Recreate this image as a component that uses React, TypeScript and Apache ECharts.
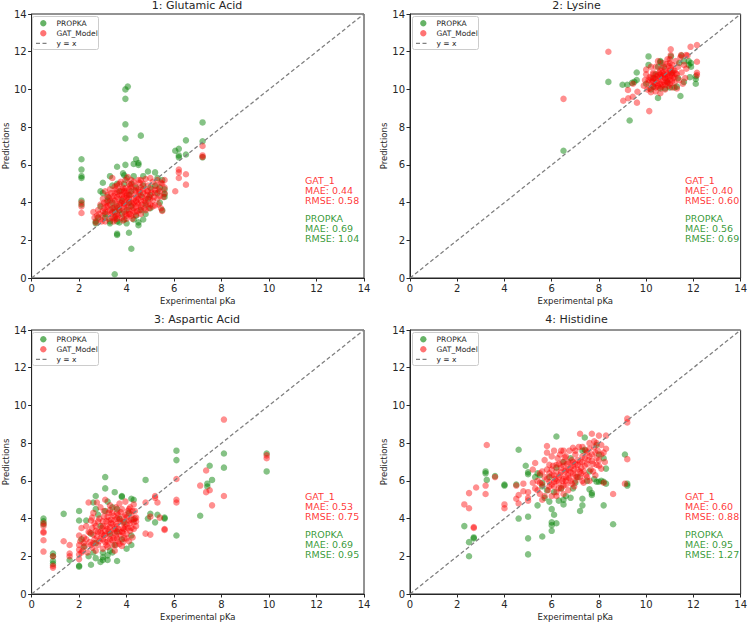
import React, { useEffect, useRef } from "react";
import * as echarts from "echarts";

const titles = ["1: Glutamic Acid", "2: Lysine", "3: Aspartic Acid", "4: Histidine"];
const gatMae = ["0.44", "0.40", "0.53", "0.60"];
const gatRmse = ["0.58", "0.60", "0.75", "0.88"];
const propkaMae = ["0.69", "0.56", "0.69", "0.95"];
const propkaRmse = ["1.04", "0.69", "0.95", "1.27"];
const tickValues = [0, 2, 4, 6, 8, 10, 12, 14];
const diagonal = [[0, 0], [14, 14]];

const glutamicPropka = [
  [2.1, 6.3], [2.1, 5.75], [2.1, 5.4], [2.1, 5.3], [2.1, 4.1], [2.1, 3.9],
  [3.95, 10.0], [4.05, 10.15], [3.95, 9.5], [3.95, 8.15], [3.95, 7.4], [4.6, 7.55],
  [3.5, 0.2], [4.2, 1.55], [3.6, 2.35], [3.6, 2.28], [4.1, 2.4],
  [7.2, 8.25], [7.2, 7.25], [7.2, 6.4], [6.5, 7.3], [6.5, 6.55], [6.2, 6.85], [6.05, 6.75], [6.2, 6.5], [6.2, 6.4],
  [3.0, 5.05], [3.3, 5.4], [3.6, 5.9], [3.95, 6.0], [3.85, 5.55], [3.9, 5.45], [4.4, 6.3], [4.5, 6.1], [4.5, 6.0],
  [4.3, 6.05], [4.9, 5.65], [5.2, 5.6], [5.5, 5.2], [5.6, 4.3], [5.6, 4.45], [5.6, 4.7],
  [4.5, 2.8], [4.5, 2.95], [4.0, 2.9], [3.7, 2.95], [3.3, 2.9], [3.3, 3.0], [2.7, 2.9], [2.7, 3.0], [2.8, 3.2],
  [3.6, 5.0], [3.4, 4.9], [4.0, 5.3], [4.2, 5.0], [4.7, 4.9], [5.0, 4.8], [5.3, 4.5], [5.4, 4.0], [5.0, 3.7],
  [4.8, 3.4], [4.3, 3.1], [3.9, 3.1], [3.5, 3.2], [3.1, 3.4], [2.9, 3.8], [3.0, 4.5], [3.2, 4.3], [4.6, 3.6],
  [4.9, 4.2], [3.7, 3.6], [4.1, 4.4], [4.4, 4.8], [3.8, 4.1], [3.4, 3.7], [4.2, 3.8], [5.3, 5.3], [3.6, 3.0],
  [4.7, 5.4], [2.9, 4.6], [5.5, 3.6], [3.1, 3.2], [3.2, 4.1], [3.4, 4.0], [3.6, 3.8], [3.8, 3.4], [4.0, 3.6],
  [4.2, 4.6], [4.4, 3.3], [4.6, 4.4], [4.8, 3.9], [5.0, 4.4], [5.2, 4.9], [3.7, 4.6], [3.9, 5.0], [4.1, 4.0],
  [3.5, 3.5], [4.3, 5.4], [4.7, 3.1], [5.4, 4.8],
];

const glutamicGat = [
  [2.1, 4.0], [2.1, 3.8], [2.1, 3.45],
  [2.6, 3.5], [2.65, 3.2], [2.7, 2.95], [2.75, 3.3], [2.8, 3.6], [2.9, 3.1], [2.9, 3.9], [3.0, 3.3], [3.0, 4.2],
  [3.05, 3.7], [3.1, 4.6], [3.1, 3.0], [3.15, 4.0], [3.2, 3.5], [3.2, 4.4], [3.25, 3.15], [3.3, 3.9], [3.3, 4.7],
  [3.35, 3.4], [3.4, 5.3], [3.4, 4.2], [3.45, 3.7], [3.5, 3.1], [3.5, 4.5], [3.55, 3.95], [3.6, 4.9], [3.6, 3.4],
  [3.65, 4.2], [3.7, 5.0], [3.7, 3.6], [3.75, 4.6], [3.8, 3.2], [3.8, 4.0], [3.85, 4.8], [3.9, 3.5], [3.9, 4.3],
  [3.95, 5.2], [4.0, 3.3], [4.0, 3.9], [4.0, 4.6], [4.05, 4.1], [4.1, 5.0], [4.1, 3.6], [4.15, 4.4], [4.2, 3.3],
  [4.2, 4.8], [4.25, 3.9], [4.3, 4.2], [4.3, 5.1], [4.35, 3.5], [4.4, 4.6], [4.4, 3.8], [4.45, 4.0], [4.5, 5.2],
  [4.5, 4.4], [4.55, 3.6], [4.6, 4.8], [4.6, 4.1], [4.65, 3.9], [4.7, 4.5], [4.7, 5.0], [4.75, 3.7], [4.8, 4.2],
  [4.8, 5.25], [4.85, 4.6], [4.9, 3.9], [4.9, 4.9], [4.95, 4.3], [5.0, 5.3], [5.0, 3.9], [5.05, 4.7], [5.1, 4.1],
  [5.1, 5.1], [5.2, 4.5], [5.2, 3.85], [5.25, 4.9], [5.3, 4.2], [5.3, 5.2], [5.35, 3.9], [5.4, 4.6], [5.45, 3.7],
  [5.5, 5.0], [5.5, 3.55], [5.55, 4.3], [5.6, 5.2], [5.6, 4.8], [5.6, 4.5],
  [3.2, 3.8], [3.4, 3.2], [3.5, 4.1], [3.6, 4.55], [3.7, 3.9], [3.8, 4.4], [3.9, 3.8], [4.0, 4.25], [4.1, 4.7],
  [4.2, 4.0], [4.3, 3.7], [4.4, 4.3], [4.5, 4.7], [4.6, 3.4], [3.65, 3.3], [3.85, 3.05], [4.25, 3.15], [3.55, 4.7],
  [3.35, 4.5], [3.75, 5.1], [4.05, 5.35], [4.15, 3.4], [3.95, 4.5], [4.35, 4.9], [4.55, 5.05], [2.85, 3.4],
  [3.1, 3.5], [3.45, 3.0],
  [3.3, 4.1], [3.4, 3.5], [3.45, 4.35], [3.5, 3.75], [3.55, 3.3], [3.6, 4.3], [3.65, 3.7], [3.7, 4.4], [3.75, 4.0],
  [3.8, 3.7], [3.8, 4.7], [3.85, 4.2], [3.9, 3.95], [3.95, 3.4], [3.95, 4.75], [4.0, 4.4], [4.05, 3.75], [4.1, 4.2],
  [4.1, 3.4], [4.15, 4.9], [4.2, 4.45], [4.25, 3.6], [4.3, 4.0], [4.35, 4.65], [4.4, 4.1], [4.45, 3.55], [4.5, 4.2],
  [4.5, 3.9], [4.55, 4.55], [4.6, 3.75], [4.65, 4.3], [4.7, 4.7], [4.75, 4.1], [4.8, 3.6], [4.85, 4.4], [4.9, 4.6],
  [4.95, 3.7], [5.0, 4.2], [5.05, 4.5], [5.1, 3.8], [5.15, 4.3], [3.3, 3.6], [3.25, 4.25], [3.15, 3.8], [3.05, 4.0],
  [3.0, 3.55], [2.95, 3.0], [3.6, 3.15], [4.0, 3.15], [4.4, 3.35], [3.9, 4.6], [4.2, 5.2], [4.6, 5.2], [3.5, 4.85],
  [4.8, 4.0], [5.2, 4.65], [5.4, 4.35], [5.45, 5.05], [5.35, 4.7],
  [6.05, 4.6], [6.2, 5.75], [6.2, 5.6], [6.2, 5.3], [6.5, 5.5], [6.5, 4.95], [7.2, 7.0], [7.2, 6.5], [7.2, 6.42],
];

const lysinePropka = [
  [10.2, 10.0], [10.0, 10.3], [10.3, 10.6], [10.5, 11.2], [10.6, 11.45], [10.8, 10.05], [11.0, 10.1], [11.2, 10.1],
  [11.3, 10.15], [11.4, 11.4], [11.6, 11.5], [11.8, 11.3], [11.9, 11.4], [11.8, 11.5], [11.9, 11.2], [12.1, 10.3],
  [12.1, 10.55], [12.1, 10.7], [11.85, 10.65], [11.45, 9.65], [10.5, 9.55], [10.1, 11.75], [10.1, 11.3], [9.6, 10.9],
  [9.6, 10.5], [9.5, 10.4], [9.4, 10.35], [9.2, 10.25], [9.0, 10.25], [8.4, 10.4], [9.3, 8.35], [6.5, 6.75],
  [11.05, 11.75], [11.5, 11.8], [10.6, 11.5], [10.9, 10.4], [11.1, 10.9], [10.4, 10.8], [10.75, 11.2], [11.35, 10.6],
  [10.3, 10.15], [11.6, 10.4], [10.6, 10.05],
];

const lysineGat = [
  [6.5, 9.5], [8.4, 12.0], [9.03, 9.4], [9.24, 9.53], [9.43, 9.61], [9.61, 9.3], [9.23, 9.97], [9.44, 10.3],
  [9.63, 9.88], [10.13, 8.85], [11.88, 12.26], [12.15, 12.35], [11.48, 11.82], [11.69, 11.82], [11.04, 12.13],
  [11.04, 11.82], [12.15, 11.47], [12.15, 10.88], [12.15, 10.76],
  [9.9, 10.2], [9.95, 10.5], [10.0, 10.8], [10.0, 11.05], [10.05, 10.0], [10.1, 10.35], [10.15, 10.65], [10.2, 9.85],
  [10.25, 10.4], [10.3, 10.9], [10.3, 10.15], [10.35, 10.6], [10.4, 9.9], [10.4, 11.2], [10.45, 10.35], [10.5, 10.75],
  [10.55, 10.1], [10.6, 11.0], [10.6, 9.8], [10.65, 10.5], [10.7, 11.4], [10.7, 10.25], [10.75, 10.8], [10.8, 10.0],
  [10.8, 11.1], [10.85, 10.45], [10.9, 10.7], [10.9, 11.6], [10.95, 10.2], [11.0, 11.0], [11.0, 10.5],
  [11.05, 10.85], [11.1, 11.3], [11.1, 10.1], [11.15, 10.6], [11.2, 11.0], [11.2, 10.35], [11.25, 11.5], [11.3, 10.8],
  [11.3, 10.05], [11.35, 11.2], [11.4, 10.5], [11.45, 11.7], [11.5, 10.9], [11.55, 10.3], [11.6, 11.3], [11.65, 10.6],
  [11.7, 11.1], [11.75, 11.8], [10.5, 11.5], [10.2, 11.2], [10.6, 10.3], [10.8, 10.6], [10.4, 10.55], [10.9, 10.35],
  [10.55, 10.9], [10.3, 10.45], [10.7, 10.7], [11.1, 10.75], [10.95, 11.25], [10.15, 10.05], [10.65, 11.15],
  [10.2, 10.6], [10.3, 10.8], [10.35, 10.3], [10.45, 10.7], [10.5, 10.2], [10.5, 10.45], [10.6, 10.65], [10.65, 10.15],
  [10.7, 10.9], [10.75, 10.4], [10.8, 10.25], [10.85, 10.95], [10.9, 10.55], [10.95, 10.85], [11.0, 10.3], [11.0, 10.7],
  [11.05, 11.15], [11.1, 10.45], [11.15, 11.0], [11.2, 10.65], [11.25, 10.85], [10.4, 10.1], [10.1, 10.5], [10.6, 10.8],
  [10.8, 10.75], [11.0, 11.4], [11.0, 11.6], [10.85, 11.35],
];

const asparticPropka = [
  [0.5, 4.0], [0.5, 3.85], [0.5, 3.7], [0.9, 2.15], [0.9, 2.0], [0.9, 1.75], [0.9, 1.6], [1.35, 4.25], [1.6, 1.8],
  [2.0, 4.4], [2.0, 3.9], [2.0, 1.45], [2.0, 1.5], [2.5, 1.55], [2.7, 1.9], [2.7, 5.2], [2.6, 4.85], [2.7, 4.5],
  [3.1, 6.2], [3.1, 5.6], [3.5, 5.4], [3.8, 5.2], [3.8, 5.15], [3.6, 1.75], [3.2, 1.8], [2.9, 1.7], [3.0, 1.95],
  [4.2, 2.6], [4.3, 5.0], [4.2, 5.05], [4.8, 6.05], [4.9, 4.0], [5.0, 4.25], [5.2, 3.8], [5.3, 4.2], [5.6, 4.0],
  [5.6, 4.05], [6.1, 7.6], [6.1, 7.1], [6.1, 3.1], [7.1, 4.15], [7.4, 5.85], [7.4, 5.7], [7.5, 6.8], [7.6, 6.05],
  [8.1, 7.45], [8.1, 6.7], [9.9, 7.45], [9.9, 6.5], [3.4, 2.2], [3.3, 2.3],
  [2.1, 2.9], [2.3, 3.9], [2.5, 3.2], [2.7, 2.7], [2.9, 3.6], [3.0, 2.2], [3.1, 4.4], [3.3, 3.2], [3.4, 4.6],
  [3.5, 2.6], [3.6, 3.3], [3.7, 4.0], [3.8, 2.9], [3.9, 3.8], [4.0, 2.4], [4.1, 4.3], [4.2, 3.1], [4.3, 3.95],
  [2.6, 2.2], [2.2, 2.5], [3.2, 4.9], [3.6, 4.5], [2.8, 4.2], [3.0, 1.8], [3.2, 2.05], [2.4, 2.0],
];

const asparticGat = [
  [0.5, 3.75], [0.5, 3.6], [0.5, 3.3], [0.5, 3.25], [0.5, 2.85], [0.5, 2.25], [0.9, 2.0], [0.9, 1.5], [0.9, 1.4],
  [1.35, 2.8], [1.6, 2.6], [1.6, 2.15], [1.6, 2.0],
  [2.0, 1.85], [2.0, 2.1], [2.0, 2.35], [2.0, 2.6], [2.0, 3.1], [2.05, 2.8], [2.1, 3.5], [2.15, 2.3], [2.2, 3.0],
  [2.25, 2.55], [2.3, 3.6], [2.35, 2.2], [2.4, 3.3], [2.4, 4.85], [2.45, 2.75], [2.5, 3.9], [2.55, 2.45], [2.6, 3.15],
  [2.6, 4.3], [2.65, 2.9], [2.7, 3.6], [2.7, 2.3], [2.75, 4.85], [2.8, 3.3], [2.8, 2.6], [2.85, 4.0], [2.9, 2.95],
  [2.9, 4.6], [2.95, 3.5], [3.0, 2.4], [3.0, 3.85], [3.05, 3.1], [3.05, 4.4], [3.1, 2.75], [3.1, 5.0], [3.15, 3.6],
  [3.2, 2.5], [3.2, 4.1], [3.25, 3.3], [3.3, 2.9], [3.3, 4.7], [3.35, 3.75], [3.4, 2.6], [3.4, 4.3], [3.45, 3.4],
  [3.5, 2.3], [3.5, 3.95], [3.55, 3.1], [3.55, 4.6], [3.6, 3.6], [3.65, 2.8], [3.65, 4.2], [3.7, 3.3], [3.7, 4.8],
  [3.75, 3.85], [3.8, 2.55], [3.8, 4.5], [3.85, 3.5], [3.9, 4.1], [3.9, 2.95], [3.95, 4.9], [4.0, 3.7], [4.0, 3.2],
  [4.05, 4.4], [4.1, 3.9], [4.1, 2.8], [4.15, 4.6], [4.2, 3.5], [4.2, 4.2], [4.25, 3.0], [4.3, 4.75], [4.3, 3.8],
  [4.35, 4.4], [4.4, 3.6], [4.4, 4.05], [3.1, 3.35], [3.3, 3.55], [3.45, 2.95], [3.6, 4.0], [3.75, 3.1], [2.95, 3.2],
  [3.25, 3.9], [3.5, 3.45], [3.85, 3.25], [2.75, 3.05], [3.15, 2.6], [3.95, 3.55], [4.15, 3.35], [2.55, 3.5],
  [2.6, 2.7], [2.7, 3.35], [2.8, 3.85], [2.85, 2.8], [2.9, 3.3], [3.0, 3.6], [3.0, 2.9], [3.05, 4.1], [3.1, 3.15],
  [3.15, 3.85], [3.2, 2.8], [3.2, 3.45], [3.25, 4.3], [3.3, 3.1], [3.35, 3.95], [3.4, 3.7], [3.4, 2.85], [3.45, 4.15],
  [3.5, 3.25], [3.55, 3.7], [3.6, 2.95], [3.6, 4.3], [3.65, 3.45], [3.7, 3.95], [3.7, 2.65], [3.75, 4.35], [3.8, 3.3],
  [3.85, 3.8], [3.9, 3.45], [3.95, 4.2], [4.0, 2.95], [4.0, 4.05], [4.05, 3.5], [4.1, 4.5], [4.15, 3.75], [4.2, 3.95],
  [4.25, 4.4], [4.3, 3.45], [4.35, 4.0], [4.4, 3.85], [2.3, 2.9], [2.45, 3.25], [2.5, 2.6], [2.55, 4.05], [2.65, 3.75],
  [2.2, 2.7], [2.1, 2.2], [3.3, 4.45], [3.55, 2.6], [3.85, 2.75],
  [4.8, 4.85], [4.8, 3.2], [5.0, 3.15], [5.0, 4.1], [5.2, 5.2], [5.2, 5.1], [5.3, 4.85], [5.4, 4.05], [5.6, 3.45],
  [5.6, 3.4], [6.1, 6.1], [6.1, 5.0], [6.1, 4.85], [7.1, 5.75], [7.35, 6.55], [7.35, 5.4], [7.5, 5.5], [7.6, 4.7],
  [8.1, 9.25], [8.1, 5.2], [9.9, 7.35], [9.9, 7.2],
];

const histidinePropka = [
  [2.3, 3.6], [2.5, 2.75], [2.5, 2.0], [2.7, 2.95], [2.7, 3.0], [3.2, 6.5], [3.2, 6.4], [3.25, 6.05], [3.6, 6.25],
  [4.0, 5.8], [4.0, 5.75], [4.6, 4.0], [4.6, 7.65], [4.5, 5.8], [4.9, 6.8], [5.0, 6.45], [5.0, 6.35], [5.0, 4.1],
  [5.0, 2.95], [5.0, 2.1], [5.4, 4.7], [5.6, 3.05], [6.0, 3.35], [6.0, 3.65], [6.0, 3.8], [6.1, 4.2], [6.2, 3.75],
  [6.0, 4.5], [6.2, 8.35], [6.5, 4.75], [6.5, 5.0], [7.2, 4.4], [7.3, 4.7], [7.3, 5.05], [7.6, 5.55], [7.7, 5.35],
  [7.7, 5.25], [8.2, 4.7], [8.6, 3.7], [7.9, 5.95], [8.0, 5.95], [8.2, 5.95], [8.3, 5.85], [8.1, 6.0], [9.1, 7.4],
  [9.2, 5.75], [9.2, 5.85], [8.3, 6.65], [7.4, 8.3], [7.4, 7.65], [8.0, 7.4], [5.5, 6.3], [5.3, 6.2], [5.6, 5.7],
  [5.8, 5.5], [6.6, 5.2], [6.9, 5.6],
  [5.4, 6.4], [5.7, 5.1], [5.9, 4.9], [6.1, 5.4], [6.3, 4.95], [6.4, 5.6], [6.8, 5.1], [7.0, 5.9], [7.1, 6.2],
  [7.5, 6.0], [7.8, 6.1], [7.6, 6.5], [6.5, 7.0], [6.8, 7.2], [7.3, 7.6], [8.2, 7.2], [7.9, 7.9], [5.9, 6.2],
  [6.2, 6.7], [5.6, 5.9],
];

const histidineGat = [
  [2.3, 4.75], [2.5, 5.35], [2.5, 4.55], [2.7, 3.55], [2.7, 3.5], [2.8, 5.65], [3.2, 5.75], [3.2, 5.3], [3.25, 7.9],
  [3.6, 6.2], [4.0, 4.75], [4.0, 4.55], [4.5, 5.75], [4.5, 5.05], [4.6, 4.8], [4.6, 5.25], [4.8, 5.45], [4.8, 5.85],
  [5.0, 5.4], [5.0, 5.1], [5.0, 4.95], [5.3, 6.95], [5.2, 6.6], [5.8, 7.85], [5.8, 7.5], [6.1, 7.6], [6.4, 7.6],
  [6.5, 7.6], [7.2, 8.5], [7.7, 8.5], [8.0, 8.4], [8.3, 8.4], [9.2, 9.3], [9.2, 9.1], [9.2, 7.15], [9.1, 5.85],
  [8.6, 5.3], [8.2, 5.9], [8.1, 6.65], [7.9, 6.85], [6.9, 7.75], [7.5, 7.5],
  [5.3, 5.6], [5.4, 6.0], [5.5, 5.3], [5.5, 6.4], [5.6, 5.8], [5.7, 5.2], [5.7, 6.2], [5.8, 6.6], [5.85, 5.5],
  [5.9, 5.95], [6.0, 6.3], [6.0, 5.2], [6.05, 6.8], [6.1, 5.7], [6.15, 6.1], [6.2, 6.5], [6.2, 5.4], [6.25, 7.2],
  [6.3, 5.9], [6.35, 6.3], [6.4, 6.7], [6.4, 5.6], [6.45, 7.0], [6.5, 6.1], [6.55, 6.5], [6.6, 5.8], [6.6, 7.3],
  [6.65, 6.9], [6.7, 6.3], [6.75, 7.6], [6.8, 6.0], [6.8, 6.7], [6.85, 7.1], [6.9, 6.4], [6.95, 5.7], [7.0, 6.9],
  [7.0, 7.4], [7.05, 6.2], [7.1, 6.6], [7.15, 7.8], [7.2, 7.0], [7.25, 6.4], [7.3, 7.3], [7.35, 5.9], [7.4, 6.8],
  [7.45, 7.6], [7.5, 6.2], [7.55, 7.1], [7.6, 8.0], [7.65, 6.6], [7.7, 7.4], [7.75, 6.9], [7.8, 7.8], [7.85, 6.3],
  [7.9, 7.2], [7.95, 7.6], [8.0, 6.8], [8.1, 7.9], [8.2, 7.5], [8.25, 7.0], [6.0, 5.8], [6.3, 6.9], [6.7, 5.5],
  [5.6, 5.0], [5.9, 6.85], [6.5, 5.3], [7.3, 6.0], [5.2, 5.9], [6.2, 6.0], [6.6, 6.2], [6.9, 6.8], [7.2, 6.5],
  [5.7, 7.1], [6.0, 7.3], [7.6, 7.7], [7.8, 8.1],
  [5.8, 6.1], [5.9, 5.7], [6.0, 6.6], [6.1, 6.3], [6.1, 5.95], [6.2, 6.85], [6.3, 6.2], [6.3, 5.6], [6.4, 6.45],
  [6.45, 6.0], [6.5, 6.8], [6.5, 5.75], [6.6, 6.55], [6.6, 6.0], [6.7, 7.0], [6.7, 6.6], [6.75, 6.15], [6.8, 6.45],
  [6.85, 5.85], [6.9, 7.0], [6.95, 6.6], [7.0, 6.3], [7.0, 6.0], [7.1, 7.1], [7.1, 6.85], [7.2, 6.2], [7.25, 6.7],
  [7.3, 7.0], [7.35, 6.5], [7.4, 7.2], [7.45, 6.3], [7.5, 6.9], [7.6, 7.3], [7.6, 6.0], [7.7, 7.05], [7.75, 6.5],
  [7.85, 7.5], [8.0, 7.1], [8.1, 7.4], [5.5, 5.9], [5.6, 6.5], [5.4, 5.5], [6.2, 5.2], [5.9, 6.4], [6.35, 7.4],
  [6.55, 7.25], [7.0, 7.6], [7.3, 7.8], [7.9, 8.0], [8.3, 7.7],
];

const propkaSets = [glutamicPropka, lysinePropka, asparticPropka, histidinePropka];
const gatSets = [glutamicGat, lysineGat, asparticGat, histidineGat];

const FONT = "DejaVu Sans";
const panels = [
  { l: 30, t: 14, w: 334, h: 264 },
  { l: 410, t: 14, w: 333, h: 264 },
  { l: 30, t: 330, w: 334, h: 265 },
  { l: 410, t: 330, w: 333, h: 265 },
];
const GREEN = "rgba(0,128,0,0.6)";
const RED = "rgba(255,0,0,0.55)";

export default function App() {
  const ref = useRef<HTMLDivElement>(null);
  useEffect(() => {
    if (!ref.current) return;
    const chart = echarts.init(ref.current, null, { renderer: "svg" });
    const grid: any[] = [];
    const xAxis: any[] = [];
    const yAxis: any[] = [];
    const series: any[] = [];
    const graphic: any[] = [];
    const axisCommon = {
      type: "value",
      min: 0,
      max: 14,
      interval: 2,
      splitLine: { show: false },
      axisLine: { show: true, onZero: false, lineStyle: { color: "#262626", width: 1 } },
      axisTick: { show: true, inside: false, length: 3.5, lineStyle: { color: "#262626" } },
      axisLabel: {
        color: "#262626",
        fontSize: 10,
        fontFamily: FONT,
        margin: 5,
        formatter: (v: number) => (tickValues.includes(v) ? String(v) : ""),
      },
      nameLocation: "middle",
      nameTextStyle: { color: "#262626", fontSize: 8.5, fontFamily: FONT },
    };
    panels.forEach((p, i) => {
      grid.push({
        left: p.l, top: p.t, width: p.w, height: p.h,
        show: true, borderColor: "#262626", borderWidth: 1, backgroundColor: "#fff",
      });
      xAxis.push({ ...axisCommon, gridIndex: i, name: "Experimental pKa", nameGap: 18 });
      yAxis.push({ ...axisCommon, gridIndex: i, name: "Predictions", nameGap: 20 });
      series.push({
        type: "scatter", name: "PROPKA", xAxisIndex: i, yAxisIndex: i,
        data: propkaSets[i], symbolSize: 6.5,
        itemStyle: { color: GREEN }, z: 2,
      });
      series.push({
        type: "scatter", name: "GAT_Model", xAxisIndex: i, yAxisIndex: i,
        data: gatSets[i], symbolSize: 6.5,
        itemStyle: { color: RED }, z: 3,
      });
      series.push({
        type: "line", name: "y = x", xAxisIndex: i, yAxisIndex: i,
        data: diagonal, symbol: "none", silent: true,
        lineStyle: { color: "#808080", width: 1.3, type: [4, 2.5] }, z: 4,
      });
      graphic.push({
        type: "text", x: p.l + p.w / 2, y: i < 2 ? 5 : 319,
        style: { text: titles[i], fill: "#262626", fontSize: 11, fontFamily: FONT, textAlign: "center", textVerticalAlign: "middle" },
      });
      graphic.push({
        type: "text", x: p.l + 275, y: p.t + 161,
        style: {
          text: `GAT_1\nMAE: ${gatMae[i]}\nRMSE: ${gatRmse[i]}`,
          fill: "rgba(255,0,0,0.8)", fontSize: 9.5, fontFamily: FONT, lineHeight: 10, textVerticalAlign: "top",
        },
      });
      graphic.push({
        type: "text", x: p.l + 275, y: p.t + 199,
        style: {
          text: `PROPKA\nMAE: ${propkaMae[i]}\nRMSE: ${propkaRmse[i]}`,
          fill: "rgba(0,128,0,0.8)", fontSize: 9.5, fontFamily: FONT, lineHeight: 10, textVerticalAlign: "top",
        },
      });
      const lx = p.l, ly = p.t;
      graphic.push({
        type: "group", z: 10,
        children: [
          { type: "rect", shape: { x: lx + 2.5, y: ly + 2.5, width: 66, height: 33, r: 2 }, style: { fill: "rgba(255,255,255,0.8)", stroke: "#cccccc", lineWidth: 1 } },
          { type: "circle", shape: { cx: lx + 13.3, cy: ly + 9.3, r: 3.2 }, style: { fill: GREEN } },
          { type: "text", x: lx + 26.5, y: ly + 9.3, style: { text: "PROPKA", fill: "#262626", fontSize: 7.5, fontFamily: FONT, textVerticalAlign: "middle" } },
          { type: "circle", shape: { cx: lx + 13.3, cy: ly + 19.3, r: 3.2 }, style: { fill: RED } },
          { type: "text", x: lx + 26.5, y: ly + 19.3, style: { text: "GAT_Model", fill: "#262626", fontSize: 7.5, fontFamily: FONT, textVerticalAlign: "middle" } },
          { type: "line", shape: { x1: lx + 6, y1: ly + 29.3, x2: lx + 19, y2: ly + 29.3 }, style: { stroke: "#808080", lineWidth: 1.3, lineDash: [4, 2.5] } },
          { type: "text", x: lx + 26.5, y: ly + 29.3, style: { text: "y = x", fill: "#262626", fontSize: 7.5, fontFamily: FONT, textVerticalAlign: "middle" } },
        ],
      });
    });
    chart.setOption({
      animation: false,
      backgroundColor: "#ffffff",
      textStyle: { fontFamily: FONT },
      grid, xAxis, yAxis, series, graphic,
    });
    return () => chart.dispose();
  }, []);
  return <div ref={ref} style={{ width: 750, height: 622, position: "absolute", left: 0, top: 0 }} />;
}
